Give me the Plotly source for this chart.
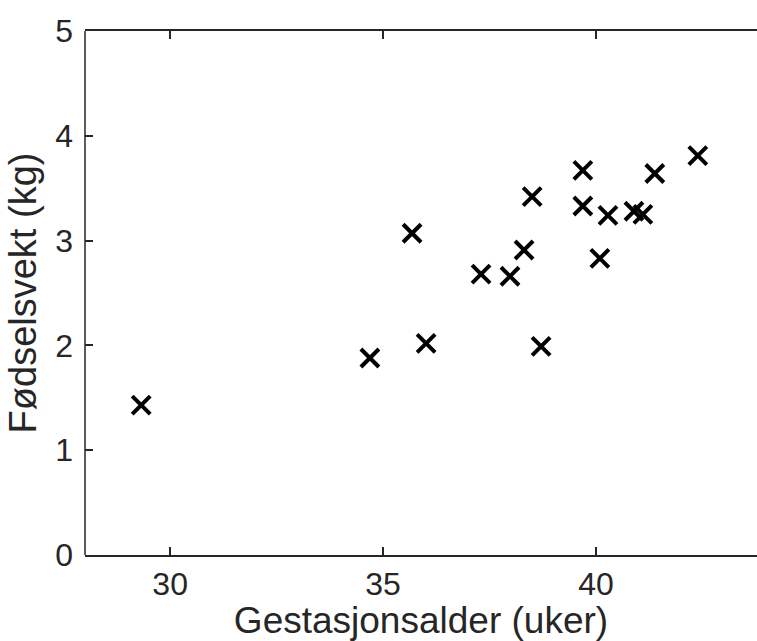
import plotly.graph_objects as go

# Gestational age (weeks) and birth weight (kg)
gest_age = [29.32, 34.69, 35.68, 36.01, 37.30, 37.98, 38.31, 38.50, 38.71,
            39.69, 39.69, 40.09, 40.28, 40.89, 41.10, 41.38, 42.39]
birth_weight = [1.43, 1.88, 3.07, 2.02, 2.68, 2.66, 2.91, 3.42, 1.99,
                3.67, 3.33, 2.83, 3.24, 3.28, 3.25, 3.64, 3.81]

x_ticks = [30, 35, 40]
y_ticks = [0, 1, 2, 3, 4, 5]
x_range = [28, 43.78]
y_range = [0, 5]

axis_color = "#262626"
font_family = "Liberation Sans, Arial, sans-serif"

fig = go.Figure()
fig.add_trace(go.Scatter(
    x=gest_age, y=birth_weight, mode="markers",
    marker=dict(symbol="x-thin", size=18, color="black",
                line=dict(color="black", width=4)),
    showlegend=False,
))

fig.update_layout(
    template="none",
    width=757, height=641,
    margin=dict(l=85, r=0, t=31, b=86, pad=0),
    plot_bgcolor="white", paper_bgcolor="white",
    font=dict(family=font_family, color=axis_color),
    xaxis=dict(
        range=x_range, tickvals=x_ticks, ticks="inside", ticklen=8,
        tickwidth=1.5, tickcolor=axis_color, showline=True, linecolor=axis_color,
        linewidth=1.5, mirror="ticks", showgrid=False, zeroline=False,
        automargin=False,
        tickfont=dict(size=32, color=axis_color),
        title=dict(text="Gestasjonsalder (uker)", font=dict(size=37, color=axis_color),
                   standoff=2),
    ),
    yaxis=dict(
        range=y_range, tickvals=y_ticks, ticks="inside", ticklen=8,
        tickwidth=1.5, tickcolor=axis_color, showline=False,
        showgrid=False, zeroline=False,
        automargin=False, ticklabelstandoff=11,
        tickfont=dict(size=32, color=axis_color),
        title=dict(text="Fødselsvekt (kg)", font=dict(size=38, color=axis_color),
                   standoff=6),
    ),
    shapes=[dict(type="line", xref="paper", yref="paper", x0=0, x1=0, y0=0, y1=1,
                 line=dict(color=axis_color, width=1.5), layer="above")],
)

fig.write_html(
    "out.html",
    config={"displayModeBar": False},
    post_script="document.body.style.margin='0';document.body.style.overflow='hidden';",
)
